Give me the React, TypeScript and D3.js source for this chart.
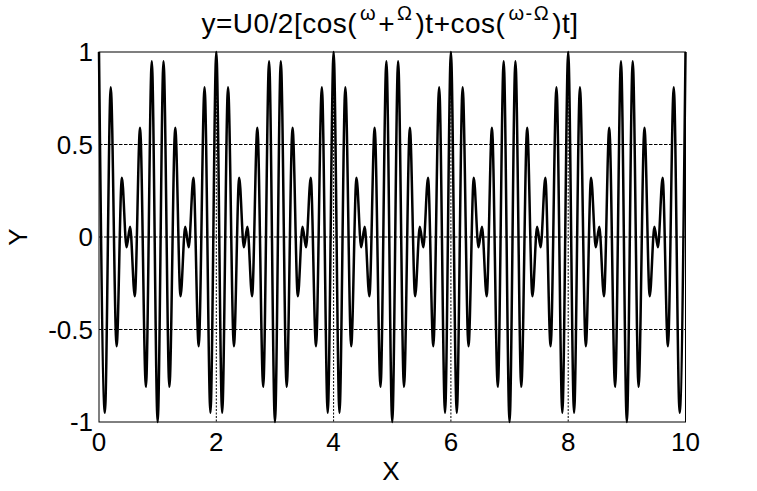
import React from "react";
import * as d3 from "d3";

// Extremes of the curve (t, y)
const tValues: number[] = [
  0, 0.1, 0.2, 0.3, 0.39, 0.47, 0.53, 0.61, 0.7, 0.8, 0.9,
  1, 1.1, 1.2, 1.3, 1.39, 1.47, 1.53, 1.61, 1.7, 1.8, 1.9,
  2, 2.1, 2.2, 2.3, 2.39, 2.47, 2.53, 2.61, 2.7, 2.8, 2.9,
  3, 3.1, 3.2, 3.3, 3.39, 3.47, 3.53, 3.61, 3.7, 3.8, 3.9,
  4, 4.1, 4.2, 4.3, 4.39, 4.47, 4.53, 4.61, 4.7, 4.8, 4.9,
  5, 5.1, 5.2, 5.3, 5.39, 5.47, 5.53, 5.61, 5.7, 5.8, 5.9,
  6, 6.1, 6.2, 6.3, 6.39, 6.47, 6.53, 6.61, 6.7, 6.8, 6.9,
  7, 7.1, 7.2, 7.3, 7.39, 7.47, 7.53, 7.61, 7.7, 7.8, 7.9,
  8, 8.1, 8.2, 8.3, 8.39, 8.47, 8.53, 8.61, 8.7, 8.8, 8.9,
  9, 9.1, 9.2, 9.3, 9.39, 9.47, 9.53, 9.61, 9.7, 9.8, 9.9,
  10,
];

const yValues: number[] = [
  1, -0.95, 0.81, -0.59, 0.32, -0.055, 0.055, -0.32, 0.59, -0.81, 0.95,
  -1, 0.95, -0.81, 0.59, -0.32, 0.055, -0.055, 0.32, -0.59, 0.81, -0.95,
  1, -0.95, 0.81, -0.59, 0.32, -0.055, 0.055, -0.32, 0.59, -0.81, 0.95,
  -1, 0.95, -0.81, 0.59, -0.32, 0.055, -0.055, 0.32, -0.59, 0.81, -0.95,
  1, -0.95, 0.81, -0.59, 0.32, -0.055, 0.055, -0.32, 0.59, -0.81, 0.95,
  -1, 0.95, -0.81, 0.59, -0.32, 0.055, -0.055, 0.32, -0.59, 0.81, -0.95,
  1, -0.95, 0.81, -0.59, 0.32, -0.055, 0.055, -0.32, 0.59, -0.81, 0.95,
  -1, 0.95, -0.81, 0.59, -0.32, 0.055, -0.055, 0.32, -0.59, 0.81, -0.95,
  1, -0.95, 0.81, -0.59, 0.32, -0.055, 0.055, -0.32, 0.59, -0.81, 0.95,
  -1, 0.95, -0.81, 0.59, -0.32, 0.055, -0.055, 0.32, -0.59, 0.81, -0.95,
  1,
];

const xTicks: number[] = [0, 2, 4, 6, 8, 10];
const yTicks: number[] = [1, 0.5, 0, -0.5, -1];
const xGrid: number[] = [2, 4, 6, 8];
const yGrid: number[] = [0.5, 0, -0.5];

const W = 757;
const H = 491;
const left = 99;
const right = 685.5;
const top = 52;
const bottom = 422;
const FONT = "'Liberation Sans', Arial, sans-serif";

export default function App() {
  const x = d3.scaleLinear().domain([0, 10]).range([left, right]);
  const y = d3.scaleLinear().domain([-1, 1]).range([bottom, top]);
  const data = tValues.map((t, i) => [t, yValues[i]] as [number, number]);
  const line = d3
    .line<[number, number]>()
    .x((d) => x(d[0]))
    .y((d) => y(d[1]))
    .curve(d3.curveMonotoneX);

  const sup = 20;
  const up = -13;

  return (
    <svg
      width={W}
      height={H}
      style={{ position: "absolute", left: 0, top: 0, background: "#fff" }}
      fontFamily={FONT}
    >
      <rect x={0} y={0} width={W} height={H} fill="#fff" />
      {yGrid.map((v) => (
        <line
          key={"hy" + v}
          x1={left}
          x2={right}
          y1={y(v)}
          y2={y(v)}
          stroke="#000"
          strokeWidth={1}
          strokeDasharray="3.5,1.5"
        />
      ))}
      {xGrid.map((v) => (
        <line
          key={"vx" + v}
          x1={x(v)}
          x2={x(v)}
          y1={top}
          y2={bottom}
          stroke="#000"
          strokeWidth={1}
          strokeDasharray="2,1.5"
        />
      ))}
      <path d={line(data) || ""} fill="none" stroke="#000" strokeWidth={2.5} strokeLinejoin="round" />
      <rect x={left} y={top} width={right - left} height={bottom - top} fill="none" stroke="#000" strokeWidth={1} />
      {xTicks.map((v) => (
        <text key={"xt" + v} x={x(v)} y={451} textAnchor="middle" fontSize={26} fill="#000">
          {v}
        </text>
      ))}
      {yTicks.map((v) => (
        <text key={"yt" + v} x={93} y={y(v)} dy="0.35em" textAnchor="end" fontSize={26} fill="#000">
          {v}
        </text>
      ))}
      <text x={391} y={480} textAnchor="middle" fontSize={26} fill="#000">
        X
      </text>
      <text transform="translate(27,237) rotate(-90)" textAnchor="middle" fontSize={26} fill="#000">
        Y
      </text>
      <text x={390} y={33} textAnchor="middle" fontSize={28} fill="#000" letterSpacing={0.5}>
        <tspan>y=U0/2[cos(</tspan>
        <tspan fontSize={sup} dx={3} dy={up}>ω</tspan>
        <tspan dx={2} dy={-up}>+</tspan>
        <tspan fontSize={sup} dx={2} dy={up}>Ω</tspan>
        <tspan dx={3} dy={-up}>)t+cos(</tspan>
        <tspan fontSize={sup} dx={3} dy={up}>ω</tspan>
        <tspan fontSize={sup} dx={1}>-</tspan>
        <tspan fontSize={sup} dx={1}>Ω</tspan>
        <tspan dx={3} dy={-up}>)t]</tspan>
      </text>
    </svg>
  );
}
